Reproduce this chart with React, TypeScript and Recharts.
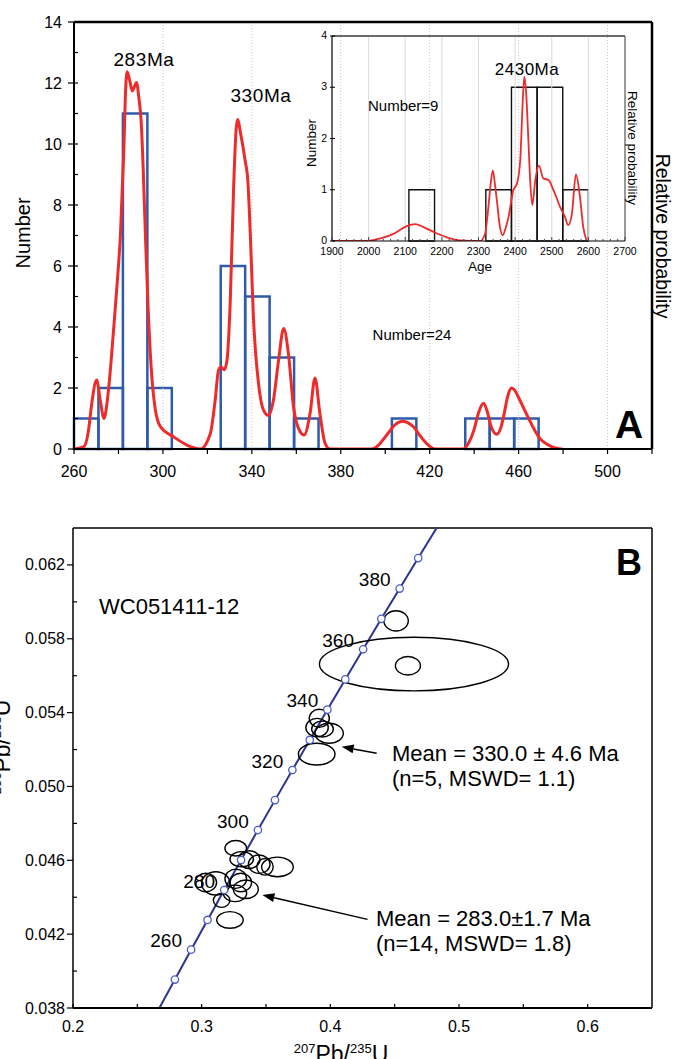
import React from 'react';
import { ComposedChart, Line, XAxis, YAxis, ReferenceArea, ReferenceLine, Scatter } from 'recharts';

const FONT = "'Liberation Sans', Arial, Helvetica, sans-serif";

// ---------- Panel A : histogram + probability curve ----------
const histBinStart = [260, 271, 282, 293, 326, 337, 348, 359, 403, 436, 447, 458];
const histCount = [1, 2, 11, 2, 6, 5, 3, 1, 1, 1, 1, 1];
const HIST_BIN = 11;

const pdfAge = [260, 264.5, 266.5, 268, 270.2, 271.8, 273.5, 275, 276, 277.9, 279.4, 280.9, 282.4, 283.2, 283.9, 285.1, 286.2, 286.9, 288.1, 289.2, 290.2, 291.1, 292.1, 293.2, 294.7, 296.6, 298.9, 304.8, 310.8, 316.8, 321.3, 323.5, 325, 326.1, 327.6, 328.8, 330.3, 331.8, 333, 333.7, 334.8, 337, 338.2, 339.3, 340.7, 343, 345.2, 347.4, 349.7, 352, 354.3, 356.5, 358.7, 361.7, 363.5, 366.2, 368.4, 370.6, 372.9, 375.1, 394, 397, 401.1, 404.5, 407.9, 410.5, 412.8, 415.5, 418.6, 422.5, 435, 437.5, 439.9, 442, 444.2, 446, 447.7, 450.2, 452, 453.5, 455, 456.8, 458.5, 460.3, 464.2, 469, 474.8, 479.7];
const pdfValue = [0, 0.08, 0.6, 1.5, 2.26, 1.6, 1.0, 1.6, 2.3, 4.0, 5.42, 7.05, 9.78, 11.74, 12.37, 12.07, 11.74, 11.83, 12.02, 11.5, 10.76, 9.24, 7.05, 4.87, 2.69, 1.28, 0.73, 0.4, 0.13, 0, 0.5, 1.6, 2.58, 2.69, 2.6, 2.9, 4.87, 8.58, 10.54, 10.8, 10.4, 9.45, 8.8, 7.05, 4.33, 2.15, 1.28, 1.1, 1.6, 2.9, 3.95, 3.1, 1.4, 0.57, 0.46, 1.17, 2.33, 1.17, 0.19, 0, 0, 0.13, 0.5, 0.8, 0.91, 0.85, 0.72, 0.45, 0.18, 0, 0, 0.2, 0.62, 1.2, 1.5, 1.2, 0.72, 0.48, 0.7, 1.16, 1.7, 2.0, 1.9, 1.64, 1.05, 0.4, 0.08, 0];

const mainXTicks = [260, 280, 300, 320, 340, 360, 380, 400, 420, 440, 460, 480, 500, 520];
const mainXLabels = [260, 300, 340, 380, 420, 460, 500];
const mainYTicks = [0, 1, 2, 3, 4, 5, 6, 7, 8, 9, 10, 11, 12, 13, 14];
const mainYLabels = [0, 2, 4, 6, 8, 10, 12, 14];
const mainGridX = [300, 340, 380, 420, 460, 500];

// ---------- Inset ----------
const insetBinStart = [2110, 2320, 2390, 2460, 2530];
const insetCount = [1, 1, 3, 3, 1];
const INSET_BIN = 70;
const insetPdfAge = [1900, 1995, 2032, 2068, 2104, 2127, 2150, 2182, 2214, 2250, 2305, 2318, 2327, 2333, 2339, 2345, 2350, 2358, 2366, 2374, 2382, 2395, 2405, 2414, 2420, 2425, 2430, 2436, 2441, 2447, 2455, 2465, 2477, 2491, 2505, 2523, 2536, 2545, 2555, 2566, 2577, 2586, 2595];
const insetPdfValue = [0, 0, 0.05, 0.14, 0.29, 0.33, 0.27, 0.16, 0.07, 0.01, 0, 0.14, 0.66, 1.1, 1.38, 1.1, 0.8, 0.3, 0.11, 0.25, 0.47, 0.99, 1.12, 1.58, 2.6, 3.2, 2.9, 2.0, 1.19, 0.7, 1.19, 1.47, 1.22, 1.19, 0.99, 0.66, 0.47, 0.31, 0.53, 1.3, 0.86, 0.27, 0.01];
const insetXLabels = [1900, 2000, 2100, 2200, 2300, 2400, 2500, 2600, 2700];
const insetGridX = [2000, 2100, 2200, 2300, 2400, 2500, 2600];
const insetYTicks = [0, 1, 2, 3, 4];

// ---------- Panel B : concordia ----------
const concordiaAge = [240, 250, 260, 270, 280, 290, 300, 310, 320, 330, 340, 350, 360, 370, 380, 390, 400];
const concordiaPb207U235 = [0.2666, 0.2792, 0.2918, 0.3046, 0.3175, 0.3306, 0.3437, 0.3570, 0.3705, 0.3840, 0.3977, 0.4116, 0.4255, 0.4396, 0.4539, 0.4683, 0.4826];
const concordiaPb206U238 = [0.03793, 0.03954, 0.04116, 0.04277, 0.04439, 0.04601, 0.04764, 0.04926, 0.05089, 0.05252, 0.05416, 0.05580, 0.05743, 0.05908, 0.06072, 0.06237, 0.06400];
const concordiaMarkedAges = [250, 260, 270, 280, 290, 300, 310, 320, 330, 340, 350, 360, 370, 380, 390];
const concordiaLabelAges = [260, 280, 300, 320, 340, 360, 380];

const ellX = [0.3914, 0.3897, 0.3939, 0.3991, 0.3894, 0.4511, 0.4650, 0.4603, 0.3265, 0.3311, 0.3369, 0.3447, 0.3589, 0.3492, 0.3032, 0.3110, 0.3265, 0.3304, 0.3343, 0.3259, 0.3155, 0.3220];
const ellY = [0.05369, 0.05319, 0.05311, 0.05288, 0.05175, 0.05897, 0.05663, 0.05654, 0.04665, 0.04606, 0.04604, 0.04579, 0.04564, 0.04565, 0.04480, 0.04475, 0.04500, 0.04480, 0.04443, 0.04421, 0.04383, 0.04277];
const ellRx = [0.0078, 0.0087, 0.0084, 0.0110, 0.0142, 0.0095, 0.0735, 0.0097, 0.0084, 0.0091, 0.0084, 0.0084, 0.0123, 0.0064, 0.0084, 0.0110, 0.0084, 0.0084, 0.0097, 0.0091, 0.0064, 0.0103];
const ellRy = [0.00049, 0.00050, 0.00043, 0.00054, 0.00059, 0.00055, 0.00145, 0.00050, 0.00042, 0.00041, 0.00048, 0.00050, 0.00053, 0.00045, 0.00050, 0.00063, 0.00052, 0.00050, 0.00050, 0.00045, 0.00038, 0.00045];

const arrowFrom = [{ x: 0.4360, y: 0.05180 }, { x: 0.4289, y: 0.04280 }];
const arrowTo = [{ x: 0.4088, y: 0.05215 }, { x: 0.3472, y: 0.04412 }];

const bXTicks = [0.2, 0.25, 0.3, 0.35, 0.4, 0.45, 0.5, 0.55, 0.6];
const bXLabels = ['0.2', '0.3', '0.4', '0.5', '0.6'];
const bYTicks = [0.038, 0.040, 0.042, 0.044, 0.046, 0.048, 0.050, 0.052, 0.054, 0.056, 0.058, 0.060, 0.062];
const bYLabels = ['0.038', '0.042', '0.046', '0.050', '0.054', '0.058', '0.062'];

const B_X_DOMAIN: [number, number] = [0.2, 0.65];
const B_Y_DOMAIN: [number, number] = [0.038, 0.064];
const B_PLOT_W = 674 - 73 - 22;
const B_PLOT_H = 559 - 28 - 51;
const PX_PER_X = B_PLOT_W / (B_X_DOMAIN[1] - B_X_DOMAIN[0]);
const PX_PER_Y = B_PLOT_H / (B_Y_DOMAIN[1] - B_Y_DOMAIN[0]);

// ---------- derived tables ----------
const pdfData = pdfAge.map((x, i) => ({ x, y: pdfValue[i] }));
const insetPdfData = insetPdfAge.map((x, i) => ({ x, y: insetPdfValue[i] }));
const insetXTicks = Array.from({ length: 41 }, (_, i) => 1900 + i * 20);
const concordiaData = concordiaAge.map((age, i) => ({
  age,
  x: concordiaPb207U235[i],
  y: concordiaPb206U238[i],
  marker: concordiaMarkedAges.includes(age),
  label: concordiaLabelAges.includes(age),
}));
const ellipseData = ellX.map((x, i) => ({ x, y: ellY[i], rx: ellRx[i], ry: ellRy[i] }));

const RED = '#EE2B2B';
const HIST_BLUE = '#2F5BAA';

// ---------- tick renderers ----------
const MainXTick = (p: any) => {
  const { x, y, payload } = p;
  const v = payload.value;
  return (
    <g>
      <line x1={x} x2={x} y1={y} y2={y + 5} stroke="#000" strokeWidth={1.2} />
      {mainXLabels.includes(v) && (
        <text x={x} y={y + 22} textAnchor="middle" dominantBaseline="central" fontSize={16} fontFamily={FONT} fill="#000">{v}</text>
      )}
    </g>
  );
};
const MainYTick = (p: any) => {
  const { x, y, payload } = p;
  const v = payload.value;
  const major = mainYLabels.includes(v);
  return (
    <g>
      <line x1={major ? x - 6 : x} x2={x + 4} y1={y} y2={y} stroke="#000" strokeWidth={1.2} />
      {major && (
        <text x={x - 12} y={y} textAnchor="end" dominantBaseline="central" fontSize={16} fontFamily={FONT} fill="#000">{v}</text>
      )}
    </g>
  );
};
const InsetXTick = (p: any) => {
  const { x, y, payload } = p;
  const v = payload.value;
  const major = insetXLabels.includes(v);
  return (
    <g>
      <line x1={x} x2={x} y1={y} y2={y - (major ? 4 : 2)} stroke="#444" strokeWidth={1} />
      {major && (
        <text x={x} y={y + 10} textAnchor="middle" dominantBaseline="central" fontSize={10.5} fontFamily={FONT} fill="#000">{v}</text>
      )}
    </g>
  );
};
const InsetYTick = (p: any) => {
  const { x, y, payload } = p;
  return (
    <g>
      <line x1={x - 2} x2={x + 3} y1={y} y2={y} stroke="#000" strokeWidth={1} />
      <text x={x - 5} y={y - 1} textAnchor="end" dominantBaseline="central" fontSize={10.5} fontFamily={FONT} fill="#000">{payload.value}</text>
    </g>
  );
};
const BXTick = (p: any) => {
  const { x, y, payload } = p;
  const label = String(payload.value);
  return (
    <g>
      <line x1={x} x2={x} y1={y} y2={y - 4} stroke="#000" strokeWidth={1.2} />
      {bXLabels.includes(label) && (
        <text x={x} y={y + 18} textAnchor="middle" dominantBaseline="central" fontSize={16} fontFamily={FONT} fill="#000">{label}</text>
      )}
    </g>
  );
};
const BYTick = (p: any) => {
  const { x, y, payload } = p;
  const label = Number(payload.value).toFixed(3);
  const major = bYLabels.includes(label);
  return (
    <g>
      <line x1={major ? x - 6 : x} x2={major ? x : x + 4} y1={y} y2={y} stroke="#000" strokeWidth={1.2} />
      {major && (
        <text x={x - 8} y={y} textAnchor="end" dominantBaseline="central" fontSize={16} fontFamily={FONT} fill="#000">{label}</text>
      )}
    </g>
  );
};

// ---------- shapes ----------
const EllipseShape = (p: any) => {
  const { cx, cy, payload } = p;
  return <ellipse cx={cx} cy={cy} rx={payload.rx * PX_PER_X} ry={payload.ry * PX_PER_Y} fill="none" stroke="#000" strokeWidth={1.4} />;
};
const ConcordiaDot = (p: any) => {
  const { cx, cy, payload, index } = p;
  if (!payload || !payload.marker) return <g key={`d${index}`} />;
  return (
    <g key={`d${index}`}>
      <circle cx={cx} cy={cy} r={3.7} fill="#fff" stroke="#4B5EC4" strokeWidth={1.3} />
      {payload.label && (
        <text x={cx - 25} y={cy - 9} textAnchor="middle" dominantBaseline="central" fontSize={19} fontFamily={FONT} fill="#000">{payload.age}</text>
      )}
    </g>
  );
};
const ArrowShape = (p: any) => {
  const { x1, y1, x2, y2 } = p;
  const ang = Math.atan2(y2 - y1, x2 - x1);
  const L = 12;
  const W = 4.5;
  const bx = x2 - L * Math.cos(ang);
  const by = y2 - L * Math.sin(ang);
  const px = -Math.sin(ang) * W;
  const py = Math.cos(ang) * W;
  return (
    <g>
      <line x1={x1} y1={y1} x2={bx} y2={by} stroke="#000" strokeWidth={1.5} />
      <polygon points={`${x2},${y2} ${bx + px},${by + py} ${bx - px},${by - py}`} fill="#000" />
    </g>
  );
};

export default function App() {
  return (
    <div style={{ position: 'absolute', left: 0, top: 0, width: 674, height: 1059, overflow: 'hidden', background: '#fff' }}>
      {/* Panel A */}
      <div style={{ position: 'absolute', left: 0, top: 0 }}>
        <ComposedChart width={674} height={480} margin={{ top: 22, right: 22, bottom: 0, left: 0 }}>
          <XAxis type="number" dataKey="x" domain={[260, 520]} ticks={mainXTicks} interval={0} allowDataOverflow height={31}
            tickSize={0} tickMargin={0} tick={MainXTick} tickLine={false} axisLine={{ stroke: '#000', strokeWidth: 2 }} />
          <YAxis type="number" domain={[0, 14]} ticks={mainYTicks} interval={0} allowDataOverflow width={74}
            tickSize={0} tickMargin={0} tick={MainYTick} tickLine={false} axisLine={{ stroke: '#000', strokeWidth: 2 }} />
          {mainGridX.map((v) => (
            <ReferenceLine key={`g${v}`} x={v} stroke="#c4c4c4" strokeDasharray="1 2" strokeWidth={1} />
          ))}
          {histBinStart.map((s, i) => (
            <ReferenceArea key={`h${i}`} x1={s} x2={s + HIST_BIN} y1={0} y2={histCount[i]} fill="none" fillOpacity={0}
              stroke={HIST_BLUE} strokeWidth={2.5} strokeOpacity={1} />
          ))}
          <ReferenceLine y={14} stroke="#000" strokeWidth={2.5} />
          <ReferenceLine x={520} stroke="#000" strokeWidth={2.5} />
          <Line data={pdfData} dataKey="y" type="monotone" stroke={RED} strokeWidth={3} dot={false} isAnimationActive={false} />
        </ComposedChart>
      </div>

      {/* Inset */}
      <div style={{ position: 'absolute', left: 300, top: 20 }}>
        <ComposedChart width={340} height={260} margin={{ top: 16, right: 15, bottom: 0, left: 0 }}>
          <XAxis type="number" dataKey="x" domain={[1900, 2700]} ticks={insetXTicks} interval={0} allowDataOverflow height={39}
            tickSize={0} tickMargin={0} tick={InsetXTick} tickLine={false} axisLine={{ stroke: '#000', strokeWidth: 1.2 }} />
          <YAxis type="number" domain={[0, 4]} ticks={insetYTicks} interval={0} allowDataOverflow width={32}
            tickSize={0} tickMargin={0} tick={InsetYTick} tickLine={false} axisLine={{ stroke: '#000', strokeWidth: 1.2 }} />
          {insetGridX.map((v) => (
            <ReferenceLine key={`ig${v}`} x={v} stroke="#dcdcdc" strokeWidth={1} />
          ))}
          <ReferenceLine y={4} stroke="#6b6b6b" strokeWidth={2} />
          <ReferenceLine x={2700} stroke="#555" strokeWidth={1.2} />
          {insetBinStart.map((s, i) => (
            <ReferenceArea key={`ib${i}`} x1={s} x2={s + INSET_BIN} y1={0} y2={insetCount[i]} fill="none" fillOpacity={0}
              stroke="#111" strokeWidth={1.4} strokeOpacity={1} />
          ))}
          <Line data={insetPdfData} dataKey="y" type="monotone" stroke={RED} strokeWidth={1.8} dot={false} isAnimationActive={false} />
        </ComposedChart>
      </div>

      {/* Panel B */}
      <div style={{ position: 'absolute', left: 0, top: 500 }}>
        <ComposedChart width={674} height={559} margin={{ top: 28, right: 22, bottom: 0, left: 0 }}>
          <XAxis type="number" dataKey="x" domain={B_X_DOMAIN} ticks={bXTicks} interval={0} allowDataOverflow height={51}
            tickSize={0} tickMargin={0} tick={BXTick} tickLine={false} axisLine={{ stroke: '#000', strokeWidth: 2 }} />
          <YAxis type="number" dataKey="y" domain={B_Y_DOMAIN} ticks={bYTicks} interval={0} allowDataOverflow width={73}
            tickSize={0} tickMargin={0} tick={BYTick} tickLine={false} axisLine={{ stroke: '#000', strokeWidth: 1.5 }} />
          <ReferenceLine y={0.064} stroke="#000" strokeWidth={1.5} />
          <ReferenceLine x={0.65} stroke="#000" strokeWidth={1.5} />
          <Scatter data={ellipseData} dataKey="y" shape={EllipseShape} isAnimationActive={false} />
          <Line data={concordiaData} dataKey="y" type="linear" stroke="#2B3590" strokeWidth={2} dot={ConcordiaDot}
            activeDot={false} isAnimationActive={false} />
          {arrowFrom.map((a, i) => (
            <ReferenceLine key={`ar${i}`} segment={[a, arrowTo[i]]} shape={ArrowShape} />
          ))}
        </ComposedChart>
      </div>

      {/* Text annotations */}
      <svg width={674} height={1059} style={{ position: 'absolute', left: 0, top: 0, pointerEvents: 'none' }} fontFamily={FONT}>
        <text x={144} y={66} textAnchor="middle" fontSize={19} letterSpacing={0.6}>283Ma</text>
        <text x={261} y={102} textAnchor="middle" fontSize={19} letterSpacing={0.6}>330Ma</text>
        <text x={412} y={340} textAnchor="middle" fontSize={15}>Number=24</text>
        <text x={629} y={438} textAnchor="middle" fontSize={39} fontWeight="bold">A</text>
        <text transform="translate(23,233) rotate(-90)" textAnchor="middle" dominantBaseline="central" fontSize={20}>Number</text>
        <text transform="translate(663,236) rotate(90)" textAnchor="middle" dominantBaseline="central" fontSize={19.5}>Relative probability</text>

        <text x={527} y={75} textAnchor="middle" fontSize={17} letterSpacing={0.5}>2430Ma</text>
        <text x={368} y={111} fontSize={15}>Number=9</text>
        <text x={480} y={271} textAnchor="middle" fontSize={13.5}>Age</text>
        <text transform="translate(311,143) rotate(-90)" textAnchor="middle" dominantBaseline="central" fontSize={13.5}>Number</text>
        <text transform="translate(632,148) rotate(90)" textAnchor="middle" dominantBaseline="central" fontSize={13.5}>Relative probability</text>

        <text x={99} y={614} fontSize={22}>WC051411-12</text>
        <text x={629} y={575} textAnchor="middle" fontSize={36} fontWeight="bold">B</text>
        <text x={392} y={761} fontSize={22}>Mean = 330.0 ± 4.6 Ma</text>
        <text x={392} y={786} fontSize={22}>(n=5, MSWD= 1.1)</text>
        <text x={376} y={926} fontSize={22}>Mean = 283.0±1.7 Ma</text>
        <text x={376} y={951} fontSize={22}>(n=14, MSWD= 1.8)</text>
        <text x={341} y={1062} textAnchor="middle">
          <tspan fontSize={13} dy={-9}>207</tspan>
          <tspan fontSize={23} dy={9}>Pb/</tspan>
          <tspan fontSize={13} dy={-9}>235</tspan>
          <tspan fontSize={23} dy={9}>U</tspan>
        </text>
        <text transform="translate(9.5,747) rotate(-90)" textAnchor="middle">
          <tspan fontSize={13} dy={-9}>206</tspan>
          <tspan fontSize={23} dy={9}>Pb/</tspan>
          <tspan fontSize={13} dy={-9}>238</tspan>
          <tspan fontSize={23} dy={9}>U</tspan>
        </text>
      </svg>
    </div>
  );
}
